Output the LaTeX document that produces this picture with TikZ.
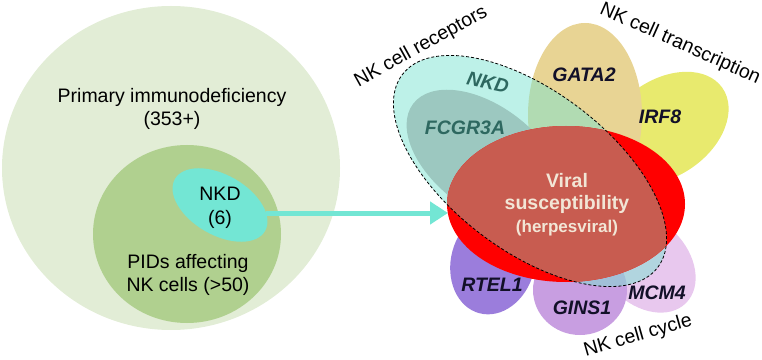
\documentclass[tikz,border=0pt]{standalone}
\usepackage{fontspec}
\setmainfont{Liberation Sans}
\usetikzlibrary{arrows.meta}
\definecolor{pidouter}{RGB}{226,237,214}
\definecolor{pidinner}{RGB}{176,208,143}
\definecolor{nkdcyan}{RGB}{115,230,212}
\definecolor{recepcyan}{RGB}{123,227,209}
\definecolor{fcgr}{RGB}{156,200,192}
\definecolor{gata}{RGB}{232,212,148}
\definecolor{irf}{RGB}{232,234,110}
\definecolor{rtel}{RGB}{155,125,220}
\definecolor{gins}{RGB}{200,158,225}
\definecolor{mcm}{RGB}{232,200,238}
\definecolor{viralred}{RGB}{255,0,0}
\definecolor{viralbrown}{RGB}{200,92,80}
\definecolor{viraltext}{RGB}{242,230,214}
\definecolor{tealtext}{RGB}{46,104,96}
\definecolor{genetext}{RGB}{18,16,40}

\begin{document}
\begin{tikzpicture}[x=1pt, y=1pt,
        txt/.style={font=\fontsize{19.5}{23.5}\selectfont, align=center},
        gene/.style={font=\fontsize{19.5}{23}\selectfont\bfseries\itshape, text=genetext},
        viral/.style={font=\fontsize{19.5}{23}\selectfont\bfseries, text=viraltext},
        arrow/.style={-{Triangle[length=18pt, width=22pt]}, line width=5pt, nkdcyan},
    ]
        \useasboundingbox (0,0) rectangle (762,359);

        % Left: nested PID sets
        \fill[pidouter] (171,191) ellipse [x radius=169, y radius=162];
        \fill[pidinner] (187,125) ellipse [x radius=94, y radius=89];
        \fill[nkdcyan] (220,154) ellipse [x radius=52, y radius=30, rotate=-30];

        \node[txt] (pid) at (172,250) {Primary immunodeficiency\\(353+)};
        \node[txt] (nkd) at (220,151) {NKD\\(6)};
        \node[txt] (pidnk) at (188,84) {PIDs affecting\\NK cells (>50)};

        % Arrow to the flower
        \coordinate (nkd-east) at (266,146);
        \coordinate (viral-west) at (448,146);
        \draw[arrow] (nkd-east) -- (viral-west);

        % Petals
        \fill[irf] (665,231) ellipse [x radius=70, y radius=48, rotate=35];
        \fill[gata] (585,244) ellipse [x radius=57, y radius=92];
        \fill[mcm] (645,97) ellipse [x radius=58, y radius=42, rotate=-45];
        \fill[gins] (580,69) ellipse [x radius=47, y radius=45];
        \fill[rtel] (493,97) ellipse [x radius=42, y radius=53, rotate=-15];

        % NK cell receptors set
        \fill[recepcyan, opacity=0.5] (530,188) ellipse [x radius=160, y radius=80, rotate=-37];
        \fill[fcgr] (485,201) ellipse [x radius=90, y radius=52, rotate=-37];

        % Viral susceptibility
        \fill[viralred] (566,155) ellipse [x radius=119, y radius=78];
        \begin{scope}
            \clip (530,188) ellipse [x radius=160, y radius=80, rotate=-37];
            \fill[viralbrown] (566,155) ellipse [x radius=119, y radius=78];
        \end{scope}
        \draw[dashed, dash pattern=on 3pt off 2pt, line width=0.8pt] (530,188) ellipse [x radius=160, y radius=80, rotate=-37];

        % Gene labels
        \node[gene, text=tealtext, rotate=-12] (nkdgene) at (488,277) {NKD};
        \node[gene, text=tealtext] (fcgr3a) at (465,231) {FCGR3A};
        \node[gene] (gata2) at (584,284) {GATA2};
        \node[gene] (irf8) at (660,242) {IRF8};
        \node[gene] (rtel1) at (492,74) {RTEL1};
        \node[gene] (gins1) at (582,51) {GINS1};
        \node[gene] (mcm4) at (657,66) {MCM4};

        \node[viral] (vir1) at (567,178) {Viral};
        \node[viral] (vir2) at (567,155) {susceptibility};
        \node[viral, font=\fontsize{17}{20}\selectfont\bfseries] (vir3) at (567,131) {(herpesviral)};

        % Group labels
        \node[txt, rotate=29] (lrecep) at (421,312) {NK cell receptors};
        \node[txt, rotate=-24] (ltrans) at (680,315) {NK cell transcription};
        \node[txt, rotate=16] (lcycle) at (638,23) {NK cell cycle};
    \end{tikzpicture}
\end{document}
